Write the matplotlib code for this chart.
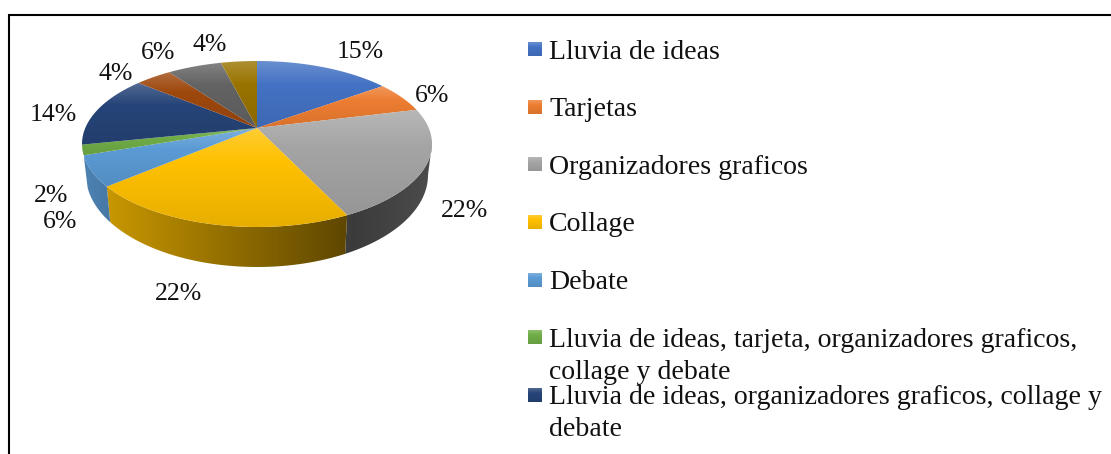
import matplotlib

matplotlib.use("Agg")
import matplotlib.pyplot as plt
import numpy as np
from matplotlib.patches import Polygon

plt.rcParams["font.family"] = ["Liberation Serif", "DejaVu Serif"]

categories = [
    ["Lluvia de ideas"],
    ["Tarjetas"],
    ["Organizadores graficos"],
    ["Collage"],
    ["Debate"],
    ["Lluvia de ideas, tarjeta, organizadores graficos,", "collage y debate"],
    ["Lluvia de ideas, organizadores graficos, collage y", "debate"],
]
values = [15, 6, 22, 22, 6, 2, 14, 4, 6, 4]
value_labels = ["15%", "6%", "22%", "22%", "6%", "2%", "14%", "4%", "6%", "4%"]
colors = [
    "#4472C4", "#ED7D31", "#A5A5A5", "#FFC000", "#5B9BD5",
    "#70AD47", "#264478", "#9E480E", "#636363", "#997300",
]

# layout, in image pixels
CX = 257
CY, RX, RY = 144, 175, 83  # top face
CY2, RX2, RY2 = 175, 171, 92  # bottom edge of the side wall
APEX_Y = 128
WARP = np.radians(9.5)  # perspective squeezes the back of the pie
SIDE_END = np.radians(262)  # the wall turns out of sight past here on the left
label_xy = [
    (360, 58), (432, 102), (464, 217), (179, 300), (60, 228),
    (51, 202), (53, 121), (116, 80), (158, 59), (210, 51),
]
swatch_y = [49, 107, 164, 222, 280, 337, 395]
legend_baselines = [[59], [116.5], [173.5], [231], [289], [347, 379], [404, 436]]


def rim(t):
    return np.column_stack((CX + RX * np.sin(t), CY - RY * np.cos(t)))


def low_rim(t):
    return np.column_stack((CX + RX2 * np.sin(t), CY2 - RY2 * np.cos(t)))


def paint(ax, xy, pixels, horizontal, zorder):
    x0, y0 = xy.min(axis=0)
    x1, y1 = xy.max(axis=0)
    patch = Polygon(xy, closed=True, fc="none", ec="none")
    ax.add_patch(patch)
    data = pixels[None, :, :] if horizontal else pixels[:, None, :]
    im = ax.imshow(data, extent=(x0, x1, y1, y0), aspect="auto", interpolation="bilinear", zorder=zorder)
    im.set_clip_path(patch)


def top_shade(rgb, n=64):
    s = np.linspace(0, 1, n)
    light = np.interp(s, [0, 0.35, 1], [0.2, 0, 0])[:, None]
    dark = np.interp(s, [0, 0.35, 1], [1, 1, 0.91])[:, None]
    return (rgb * dark) * (1 - light) + light


def side_shade(rgb, x):
    f = np.interp(x, [82, 108, 353, 432], [0.84, 0.78, 0.36, 0.46])[:, None]
    return rgb * f


fig = plt.figure(figsize=(11.11, 4.54), dpi=100)
ax = fig.add_axes([0, 0, 1, 1])

theta = 2 * np.pi * np.cumsum([0] + values) / sum(values)
edges = theta - WARP * np.sin(theta)

for start, end, color in zip(edges[:-1], edges[1:], colors):
    rgb = np.array(matplotlib.colors.to_rgb(color))

    lo, hi = max(start, np.pi / 2), min(end, SIDE_END)
    if hi > lo:
        t = np.linspace(lo, hi, 60)
        xy = np.vstack((rim(t), low_rim(t[::-1])))
        x = np.linspace(xy[:, 0].min(), xy[:, 0].max(), 64)
        paint(ax, xy, side_shade(rgb, x), True, 2)

    t = np.linspace(start, end, 60)
    xy = np.vstack(([[CX, APEX_Y]], rim(t)))
    paint(ax, xy, top_shade(rgb), False, 2.5)

for text, (x, y) in zip(value_labels, label_xy):
    ax.text(x, y, text, fontsize=18.5, ha="center", va="baseline", color="#111111", zorder=3)

for lines, color, sy, baselines in zip(categories, colors, swatch_y, legend_baselines):
    rgb = np.array(matplotlib.colors.to_rgb(color))
    box = np.array([[528, sy - 7], [542, sy - 7], [542, sy + 7], [528, sy + 7]])
    paint(ax, box, top_shade(rgb), False, 3)
    for line, y in zip(lines, baselines):
        ax.text(549, y, line, fontsize=20.1, ha="left", va="baseline", color="#111111", zorder=3)

# chart frame: only the top and left edges fall inside the image
ax.plot([9, 9, 1111], [454, 15, 15], color="black", lw=1.5, solid_joinstyle="miter", zorder=4)

ax.set_xlim(0, 1111)
ax.set_ylim(454, 0)
ax.axis("off")
fig.savefig("out.png", dpi=100)
